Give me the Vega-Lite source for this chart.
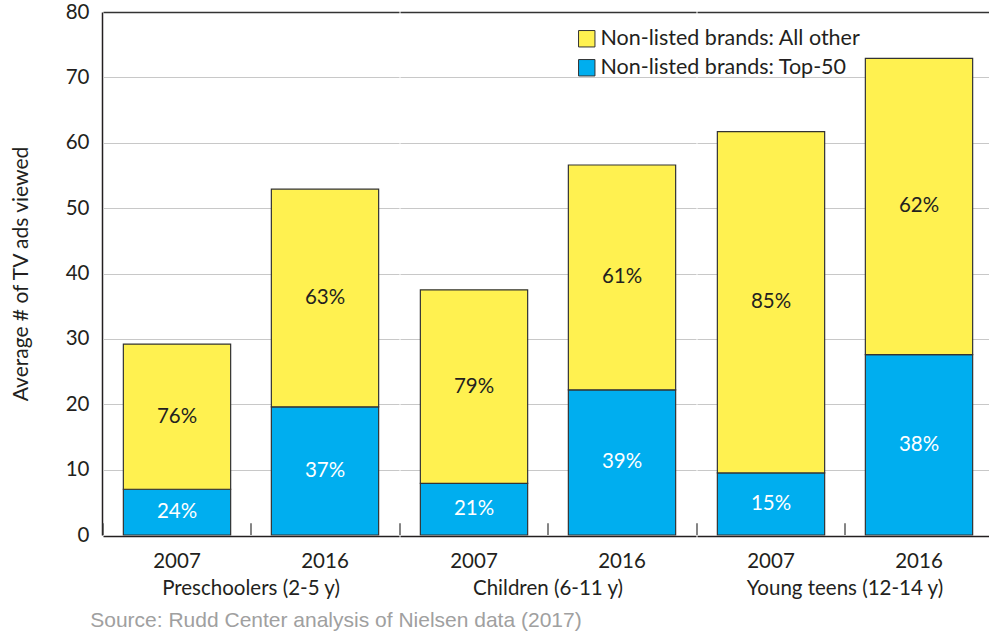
{
  "$schema": "https://vega.github.io/schema/vega-lite/v6.json",
  "padding": {"left": 10, "top": 2, "right": 0, "bottom": 0},
  "background": "white",
  "data": {
    "values": [
      {"group": "Preschoolers (2-5 y)", "year": "2007", "series": "Non-listed brands: Top-50", "value": 7.0, "label": "24%"},
      {"group": "Preschoolers (2-5 y)", "year": "2007", "series": "Non-listed brands: All other", "value": 22.2, "label": "76%"},
      {"group": "Preschoolers (2-5 y)", "year": "2016", "series": "Non-listed brands: Top-50", "value": 19.6, "label": "37%"},
      {"group": "Preschoolers (2-5 y)", "year": "2016", "series": "Non-listed brands: All other", "value": 33.3, "label": "63%"},
      {"group": "Children (6-11 y)", "year": "2007", "series": "Non-listed brands: Top-50", "value": 7.9, "label": "21%"},
      {"group": "Children (6-11 y)", "year": "2007", "series": "Non-listed brands: All other", "value": 29.6, "label": "79%"},
      {"group": "Children (6-11 y)", "year": "2016", "series": "Non-listed brands: Top-50", "value": 22.2, "label": "39%"},
      {"group": "Children (6-11 y)", "year": "2016", "series": "Non-listed brands: All other", "value": 34.4, "label": "61%"},
      {"group": "Young teens (12-14 y)", "year": "2007", "series": "Non-listed brands: Top-50", "value": 9.5, "label": "15%"},
      {"group": "Young teens (12-14 y)", "year": "2007", "series": "Non-listed brands: All other", "value": 52.2, "label": "85%"},
      {"group": "Young teens (12-14 y)", "year": "2016", "series": "Non-listed brands: Top-50", "value": 27.6, "label": "38%"},
      {"group": "Young teens (12-14 y)", "year": "2016", "series": "Non-listed brands: All other", "value": 45.3, "label": "62%"}
    ]
  },
  "transform": [
    {"stack": "value", "groupby": ["group", "year"], "sort": [{"field": "series", "order": "descending"}], "as": ["v0", "v1"]},
    {"calculate": "(datum.v0 + datum.v1) / 2", "as": "mid"}
  ],
  "title": {
    "text": "Source: Rudd Center analysis of Nielsen data (2017)",
    "orient": "bottom",
    "anchor": "start",
    "frame": "bounds",
    "dx": 80,
    "offset": 11,
    "font": "Liberation Sans",
    "fontSize": 21,
    "fontWeight": "normal",
    "color": "#a0a0a0"
  },
  "facet": {
    "column": {
      "field": "group",
      "sort": ["Preschoolers (2-5 y)", "Children (6-11 y)", "Young teens (12-14 y)"],
      "header": {
        "title": null,
        "labelOrient": "bottom",
        "labelFont": "Lato",
        "labelFontSize": 20.5,
        "labelColor": "#231f20",
        "labelPadding": 7
      }
    }
  },
  "spacing": 0,
  "spec": {
    "width": 296,
    "height": 523,
    "layer": [
      {
        "mark": {"type": "bar", "width": {"band": 0.725}, "stroke": "#333333", "strokeWidth": 1.2},
        "encoding": {
          "x": {
            "field": "year",
            "type": "nominal",
            "scale": {"paddingInner": 0, "paddingOuter": 0},
            "axis": {
              "title": null,
              "labelAngle": 0,
              "ticks": false,
              "labelPadding": 15,
              "domainColor": "#231f20",
              "domainWidth": 1.5
            }
          },
          "y": {
            "field": "v1",
            "type": "quantitative",
            "scale": {"domain": [0, 80]},
            "axis": {
              "title": "Average # of TV ads viewed",
              "values": [0, 10, 20, 30, 40, 50, 60, 70, 80],
              "ticks": false,
              "labelPadding": 13,
              "titlePadding": 34,
              "domainColor": "#231f20",
              "domainWidth": 1.5,
              "gridColor": {"condition": {"test": "datum.value === 80", "value": "#333333"}, "value": "#c8c8c8"},
              "gridWidth": {"condition": {"test": "datum.value === 80", "value": 1.5}, "value": 1.2}
            }
          },
          "y2": {"field": "v0"},
          "fill": {
            "field": "series",
            "type": "nominal",
            "scale": {"domain": ["Non-listed brands: All other", "Non-listed brands: Top-50"], "range": ["#fff150", "#00aeef"]},
            "legend": {
              "title": null,
              "orient": "none",
              "legendX": 473,
              "legendY": 16,
              "symbolType": "square",
              "symbolSize": 270,
              "symbolStrokeColor": "#333333",
              "symbolStrokeWidth": 1,
              "symbolOpacity": 1,
              "labelFont": "Lato",
              "labelFontSize": 21.5,
              "labelColor": "#231f20",
              "rowPadding": 6,
              "labelOffset": 3,
              "labelLimit": 400
            }
          }
        }
      },
      {
        "transform": [{"filter": "datum.series === 'Non-listed brands: Top-50'"}],
        "mark": {"type": "rule", "color": "#333333", "strokeWidth": 1.2},
        "encoding": {
          "x": {"field": "year", "type": "nominal", "bandPosition": 0},
          "y": {"datum": 0},
          "y2": {"datum": 1.8}
        }
      },
      {
        "mark": {"type": "text", "font": "Lato", "fontSize": 20.5, "baseline": "middle", "align": "center"},
        "encoding": {
          "x": {"field": "year", "type": "nominal"},
          "y": {"field": "mid", "type": "quantitative"},
          "text": {"field": "label"},
          "color": {"condition": {"test": "datum.series === 'Non-listed brands: Top-50'", "value": "white"}, "value": "#231f20"}
        }
      }
    ]
  },
  "config": {
    "view": {"stroke": null},
    "axis": {
      "labelFont": "Lato",
      "labelFontSize": 20.5,
      "labelColor": "#231f20",
      "titleFont": "Lato",
      "titleFontSize": 21,
      "titleFontWeight": "normal",
      "titleColor": "#231f20"
    }
  }
}
